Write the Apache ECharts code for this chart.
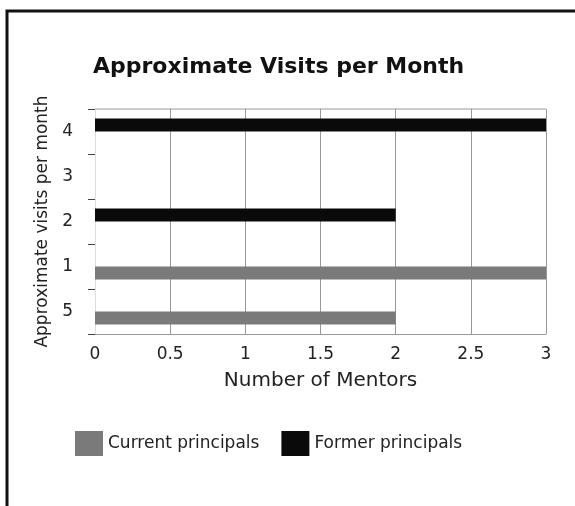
<!DOCTYPE html>
<html>
<head>
<meta charset="utf-8">
<script src="https://cdn.jsdelivr.net/npm/echarts@6/dist/echarts.min.js"></script>
<style>
  html, body { margin: 0; padding: 0; background: #fff; }
  #chart { width: 575px; height: 506px; }
</style>
</head>
<body>
<div id="chart"></div>
<script>
// categories bottom -> top
const visitCats = ['5', '1', '2', '3', '4'];
const currentPrincipals = [2, 3, null, null, null];
const formerPrincipals = [null, null, 2, null, 3];

const chart = echarts.init(document.getElementById('chart'));
const font = '"DejaVu Sans", sans-serif';

let option = {
    animation: false,
    backgroundColor: '#fff',
    textStyle: { fontFamily: font },
    title: {
        text: 'Approximate Visits per Month',
        left: 88,
        top: 51,
        textStyle: { fontFamily: font, fontSize: 22, fontWeight: 'bold', color: '#111' }
    },
    grid: { left: 95, right: 29, top: 109, bottom: 172 },
    xAxis: {
        type: 'value',
        min: 0,
        max: 3,
        interval: 0.5,
        name: 'Number of Mentors',
        nameLocation: 'middle',
        nameGap: 37,
        nameTextStyle: { fontSize: 20, color: '#222' },
        axisLine: { show: true, lineStyle: { color: '#999' } },
        axisTick: { show: false },
        axisLabel: { fontSize: 17, color: '#222', margin: 12 },
        splitLine: { show: true, lineStyle: { color: '#999', width: 1 } }
    },
    yAxis: {
        type: 'category',
        data: visitCats,
        name: 'Approximate visits per month',
        nameLocation: 'middle',
        nameGap: 39,
        nameRotate: 90,
        nameTextStyle: { fontSize: 17, color: '#222' },
        axisLine: { show: true, lineStyle: { color: '#ddd' } },
        axisTick: { show: true, alignWithLabel: false, length: 7, lineStyle: { color: '#444' } },
        axisLabel: { fontSize: 17, color: '#222', margin: 22 },
        splitLine: { show: false }
    },
    legend: {
        left: 70,
        top: 426,
        icon: 'rect',
        itemWidth: 28,
        itemHeight: 25,
        itemGap: 22,
        textStyle: { fontSize: 17, color: '#222' },
        data: ['Current principals', 'Former principals']
    },
    // former first so it sits on the upper half of each band
    series: [
        {
            name: 'Former principals',
            type: 'bar',
            data: formerPrincipals,
            barWidth: 13,
            barGap: '0%',
            itemStyle: { color: '#0a0a0a' }
        },
        {
            name: 'Current principals',
            type: 'bar',
            data: currentPrincipals,
            barWidth: 13,
            barGap: '0%',
            itemStyle: { color: '#7a7a7a' }
        }
    ],
    graphic: [
        {
            type: 'polyline',
            shape: { points: [[7, 506], [7, 11], [575, 11]] },
            style: { stroke: '#111', lineWidth: 3, fill: null }
        },
        {
            type: 'line',
            shape: { x1: 95, y1: 109, x2: 546, y2: 109 },
            style: { stroke: '#999', lineWidth: 1 }
        }
    ]
};

chart.setOption(option);
</script>
</body>
</html>
